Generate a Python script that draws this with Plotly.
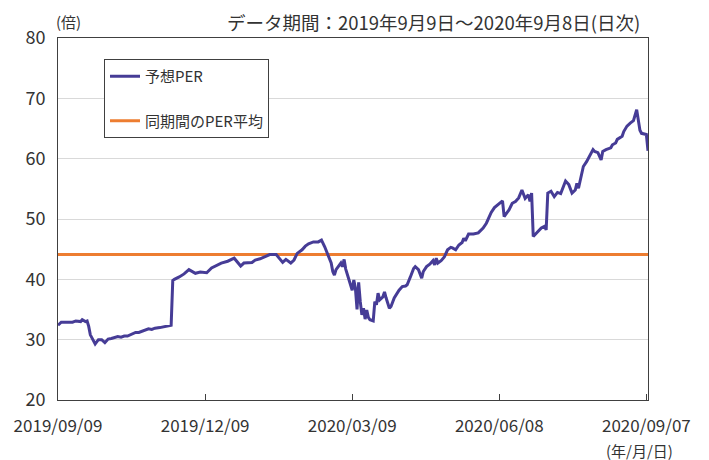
import plotly.graph_objects as go

# ---- data ----
dates = [
    "2019-09-09","2019-09-11","2019-09-13","2019-09-18","2019-09-20","2019-09-23","2019-09-24",
    "2019-09-26","2019-09-27","2019-09-28","2019-09-29","2019-10-01","2019-10-02","2019-10-04",
    "2019-10-06","2019-10-08","2019-10-10","2019-10-12","2019-10-14","2019-10-16","2019-10-18",
    "2019-10-20","2019-10-22","2019-10-25","2019-10-27","2019-10-29","2019-10-31","2019-11-02",
    "2019-11-04","2019-11-06","2019-11-08","2019-11-11","2019-11-14","2019-11-17","2019-11-18",
    "2019-11-19","2019-11-20","2019-11-23","2019-11-26","2019-11-29","2019-12-03","2019-12-06",
    "2019-12-10","2019-12-13","2019-12-19","2019-12-23","2019-12-27","2019-12-31","2020-01-02",
    "2020-01-07","2020-01-09","2020-01-12","2020-01-15","2020-01-18","2020-01-22","2020-01-24",
    "2020-01-26","2020-01-28","2020-01-31","2020-02-02","2020-02-04","2020-02-07","2020-02-09",
    "2020-02-11","2020-02-14","2020-02-17","2020-02-19","2020-02-21","2020-02-23","2020-02-25",
    "2020-02-26","2020-02-27","2020-02-28","2020-03-01","2020-03-02","2020-03-03","2020-03-04",
    "2020-03-05","2020-03-07","2020-03-08","2020-03-09","2020-03-10","2020-03-11","2020-03-12",
    "2020-03-13","2020-03-14","2020-03-15","2020-03-16","2020-03-17","2020-03-18","2020-03-19",
    "2020-03-20","2020-03-22","2020-03-23","2020-03-24","2020-03-25","2020-03-26","2020-03-28",
    "2020-03-29","2020-03-30","2020-04-01","2020-04-02","2020-04-04","2020-04-07","2020-04-09",
    "2020-04-11","2020-04-12","2020-04-14","2020-04-16","2020-04-17","2020-04-19","2020-04-21",
    "2020-04-22","2020-04-24","2020-04-26","2020-04-28","2020-04-29","2020-04-30","2020-05-01",
    "2020-05-03","2020-05-05","2020-05-07","2020-05-09","2020-05-10","2020-05-12","2020-05-14",
    "2020-05-16","2020-05-17","2020-05-18","2020-05-20","2020-05-23","2020-05-26","2020-05-29",
    "2020-05-31","2020-06-02","2020-06-03","2020-06-05","2020-06-07","2020-06-10","2020-06-11",
    "2020-06-14","2020-06-16","2020-06-18","2020-06-20","2020-06-22","2020-06-24","2020-06-26",
    "2020-06-27","2020-06-28","2020-06-29","2020-07-01","2020-07-04","2020-07-06","2020-07-07",
    "2020-07-08","2020-07-10","2020-07-12","2020-07-14","2020-07-16","2020-07-17","2020-07-19",
    "2020-07-21","2020-07-23","2020-07-25","2020-07-26","2020-07-27","2020-07-28","2020-07-30",
    "2020-08-01","2020-08-03","2020-08-05","2020-08-06","2020-08-08","2020-08-10","2020-08-11",
    "2020-08-13","2020-08-16","2020-08-17","2020-08-19","2020-08-20","2020-08-23","2020-08-24",
    "2020-08-26","2020-08-28","2020-08-30","2020-09-01","2020-09-02","2020-09-03","2020-09-04",
    "2020-09-06","2020-09-07","2020-09-08",
]
per_values = [
    32.4, 32.9, 32.9, 32.9, 33.1, 33.0, 33.3,
    33.0, 33.1, 32.2, 30.8, 29.7, 29.3, 30.0,
    30.0, 29.5, 30.1, 30.2, 30.4, 30.5, 30.4,
    30.6, 30.6, 30.9, 31.2, 31.2, 31.4, 31.5,
    31.8, 31.7, 31.9, 32.0, 32.2, 32.3, 32.4,
    39.8, 40.0, 40.4, 40.9, 41.6, 41.0, 41.2,
    41.1, 41.9, 42.7, 43.0, 43.5, 42.2, 42.7,
    42.8, 43.2, 43.4, 43.8, 44.1, 44.1, 43.5,
    42.8, 43.3, 42.7, 43.2, 44.3, 44.9, 45.5,
    45.9, 46.2, 46.2, 46.5, 45.4, 44.0, 42.7,
    41.3, 40.7, 41.6, 42.4, 42.7, 42.1, 43.3,
    41.7, 39.9, 38.8, 38.2, 39.9, 38.5, 35.0,
    39.5, 36.3, 34.1, 35.2, 33.4, 34.9, 33.7,
    33.3, 33.1, 36.3, 35.8, 37.7, 36.6, 37.1,
    37.9, 36.9, 35.2, 35.5, 36.9, 38.2, 38.8,
    38.9, 39.1, 40.4, 41.8, 42.1, 41.6, 40.2,
    41.3, 42.1, 42.5, 43.1, 42.4, 43.5, 42.7,
    43.1, 43.7, 44.9, 45.3, 45.2, 44.9, 45.7,
    46.1, 46.8, 46.4, 47.5, 47.5, 47.7, 48.5,
    49.3, 50.7, 51.1, 51.9, 52.4, 53.0, 50.4,
    51.5, 52.6, 52.9, 53.5, 54.8, 53.4, 54.0,
    52.9, 54.3, 47.1, 47.6, 48.5, 48.8, 48.2,
    54.3, 54.6, 53.7, 54.4, 54.2, 54.8, 56.3,
    55.7, 54.3, 54.8, 55.9, 55.1, 56.2, 58.7,
    59.5, 60.4, 61.5, 61.2, 61.0, 59.8, 61.2,
    61.5, 61.8, 62.3, 62.6, 63.2, 63.7, 64.5,
    65.4, 65.9, 66.3, 68.1, 66.4, 64.7, 64.2,
    64.1, 64.0, 61.3,
]
period_start = "2019-09-09"
period_end = "2020-09-08"
avg_per = 44.1

tick_dates = ["2019-09-09", "2019-12-09", "2020-03-09", "2020-06-08", "2020-09-07"]
tick_labels = ["2019/09/09", "2019/12/09", "2020/03/09", "2020/06/08", "2020/09/07"]
y_ticks = [20, 30, 40, 50, 60, 70, 80]

series_names = ["予想PER", "同期間のPER平均"]
title_text = "データ期間：2019年9月9日～2020年9月8日(日次)"
unit_y = "(倍)"
unit_x = "(年/月/日)"

FONT = "Noto Sans CJK JP"
PURPLE = "#463c96"
ORANGE = "#ed7d31"
AXIS = "#404040"
TXT = "#333333"

fig = go.Figure()
fig.add_trace(go.Scatter(
    x=[period_start, period_end], y=[avg_per, avg_per], mode="lines",
    name=series_names[1], line=dict(color=ORANGE, width=3),
    legendgroup="b", legendrank=2,
))
fig.add_trace(go.Scatter(
    x=dates, y=per_values, mode="lines",
    name=series_names[0], line=dict(color=PURPLE, width=3),
    legendgroup="a", legendrank=1,
))

# page body has an 8px default margin, so the figure is sized to fit inside
fig.update_layout(
    width=701, height=452,
    margin=dict(l=50, r=61, t=30, b=60),
    paper_bgcolor="white", plot_bgcolor="white",
    font=dict(family=FONT, color=TXT, size=15),
    showlegend=True,
    legend=dict(
        x=0.078, y=0.942, xanchor="left", yanchor="top",
        bgcolor="white", bordercolor=AXIS, borderwidth=1,
        font=dict(size=15, family=FONT, color=TXT),
        tracegroupgap=22, itemwidth=30,
    ),
    xaxis=dict(
        type="date", range=[period_start, period_end],
        tickvals=tick_dates, ticktext=tick_labels,
        ticks="inside", ticklen=6, tickcolor=AXIS,
        showgrid=False, showline=True, linecolor=AXIS, linewidth=1, mirror=True,
        tickfont=dict(size=17, family=FONT, color=TXT),
        ticklabelstandoff=11, automargin=False,
    ),
    yaxis=dict(
        range=[20, 80], tickvals=y_ticks,
        ticks="", showgrid=True, gridcolor="#d9d9d9", gridwidth=1,
        showline=True, linecolor=AXIS, linewidth=1, mirror=True,
        zeroline=False,
        tickfont=dict(size=18, family=FONT, color=TXT),
        ticklabelstandoff=8, automargin=False,
    ),
    annotations=[
        dict(text=unit_y, xref="paper", yref="paper", x=0.0, y=1.0, xshift=-4, yshift=4,
             xanchor="left", yanchor="bottom", showarrow=False,
             font=dict(size=15, family=FONT, color=TXT)),
        dict(text=title_text, xref="paper", yref="paper", x=0.99, y=1.0, yshift=1,
             xanchor="right", yanchor="bottom", showarrow=False,
             font=dict(size=18.5, family=FONT, color=TXT)),
        dict(text=unit_x, xref="paper", yref="paper", x=0.985, y=0.0, yshift=-38,
             xanchor="center", yanchor="top", showarrow=False,
             font=dict(size=15, family=FONT, color=TXT)),
    ],
)

fig.write_html("out.html")
